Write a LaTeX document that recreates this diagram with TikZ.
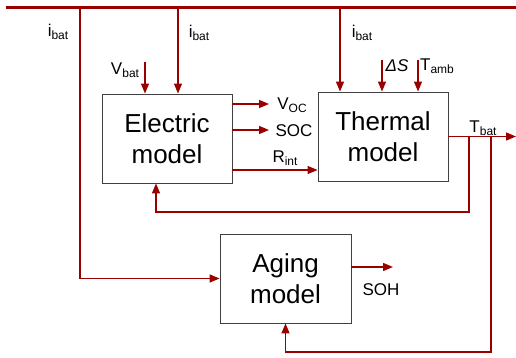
\documentclass[tikz,border=0pt]{standalone}
\usepackage{fontspec}
\setmainfont{Liberation Sans}
\usetikzlibrary{positioning, calc, arrows.meta}
\definecolor{sigred} {HTML}{990000}
\definecolor{boxgray}{HTML}{404040}
\newcommand{\lsub}[1]{\raisebox{-3pt}{\fontsize{12}{12}\selectfont #1}}
\tikzset{
  >={Triangle[length=10pt, width=8pt]},
  model/.style={
    draw=boxgray, line width=0.9pt, rectangle,
    minimum width=130pt, minimum height=89pt,
    align=center, inner sep=2pt, fill=white,
    font=\fontsize{26}{31}\selectfont
  },
  sig/.style={
    draw=sigred, line width=1.4pt, ->
  },
  bus/.style={
    draw=sigred, line width=3pt
  },
  siglabel/.style={
    font=\fontsize{17}{19}\selectfont, inner sep=0pt, text=black
  },
}

\begin{document}
\begin{tikzpicture}[x=1pt, y=-1pt]
\useasboundingbox (0,0) rectangle (516,358);

% ---- Blocks --------------------------------------------------------
\node[model] (elec)  at (167, 138.5) {Electric\\model};
\node[model] (therm) at (383, 136.5) {Thermal\\model};
\node[model, minimum width=131pt] (aging) at (285.5, 278.5) {Aging\\model};

% ---- Labels --------------------------------------------------------
\node[siglabel] (l_ibat1) at (58, 32)    {i\lsub{bat}};
\node[siglabel] (l_ibat2) at (199, 33)   {i\lsub{bat}};
\node[siglabel] (l_vbat)  at (125, 70)   {V\lsub{bat}};
\node[siglabel] (l_voc)   at (292, 105)  {V\lsub{OC}};
\node[siglabel] (l_soc)   at (294, 131)  {SOC};
\node[siglabel] (l_rint)  at (285, 158)  {R\lsub{int}};
\node[siglabel] (l_ibat3) at (362, 33)   {i\lsub{bat}};
\node[siglabel] (l_ds)    at (397, 66)   {\textit{ΔS}};
\node[siglabel] (l_tamb)  at (437, 66)   {T\lsub{amb}};
\node[siglabel] (l_tbat)  at (483, 128)  {T\lsub{bat}};
\node[siglabel] (l_soh)   at (381, 290)  {SOH};

% ---- Current bus ---------------------------------------------------
\coordinate (busL) at (6, 8);
\coordinate (busR) at (516, 8);
\draw[bus] (busL) -- (busR);

% i_bat taps
\coordinate (tap1) at (80, 8);
\coordinate (tap2) at (178, 8);
\coordinate (tap3) at (340, 8);
\draw[sig] (tap1) |- (aging.west);
\draw[sig] (tap2) -- (tap2 |- elec.north);
\draw[sig] (tap3) -- (tap3 |- therm.north);

% external inputs
\coordinate (vbat_in) at (145, 62);
\coordinate (ds_in)   at (382, 60);
\coordinate (tamb_in) at (418, 60);
\draw[sig] (vbat_in) -- (vbat_in |- elec.north);
\draw[sig] (ds_in)   -- (ds_in |- therm.north);
\draw[sig] (tamb_in) -- (tamb_in |- therm.north);

% ---- Electric model outputs ---------------------------------------
\coordinate (voc_end) at (269, 104);
\coordinate (soc_end) at (269, 130);
\coordinate (rint_y)  at (0, 170);
\draw[sig] (voc_end -| elec.east) -- (voc_end);
\draw[sig] (soc_end -| elec.east) -- (soc_end);
\draw[sig] (rint_y -| elec.east) -- (rint_y -| therm.west);

% ---- Thermal model output + feedback -------------------------------
\coordinate (tbat_end) at (516, 0);
\draw[sig] (therm.east) -- (therm.east -| tbat_end);

% T_bat -> electric model
\coordinate (fb1_dn) at (469, 212);
\coordinate (fb1_up) at (156, 212);
\draw[sig] (fb1_dn |- therm.east) -- (fb1_dn) -- (fb1_up) -- (fb1_up |- elec.south);

% T_bat -> aging model
\coordinate (fb2_dn) at (491, 352);
\draw[sig] (fb2_dn |- therm.east) -- (fb2_dn) -| (aging.south);

% ---- Aging model output -------------------------------------------
\coordinate (soh_end) at (393, 267);
\draw[sig] (soh_end -| aging.east) -- (soh_end);

\end{tikzpicture}
\end{document}
